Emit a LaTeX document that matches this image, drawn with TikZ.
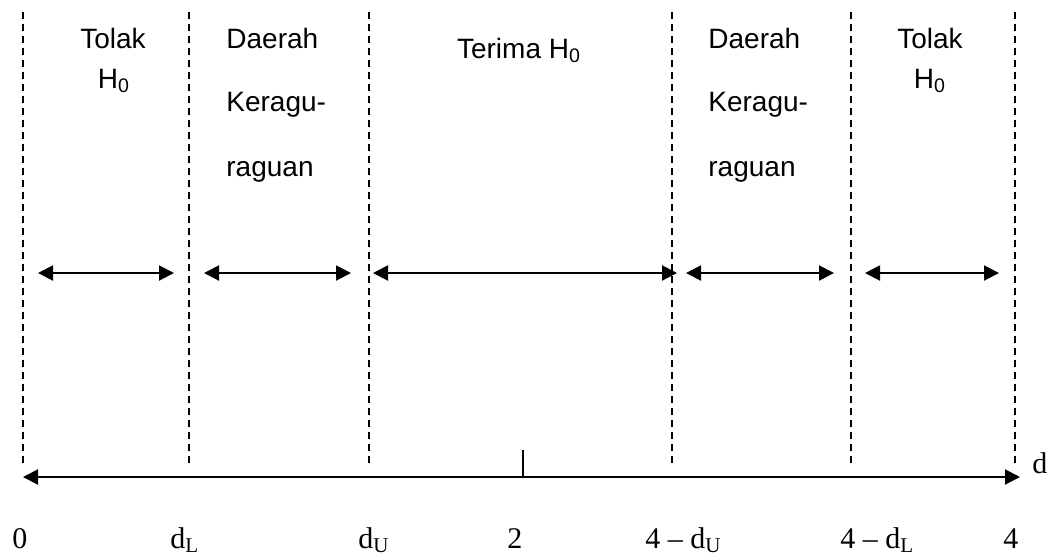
\documentclass[tikz,border=0pt]{standalone}
\usepackage{fontspec}
\setmainfont{Liberation Serif}
\newfontfamily\arialfont{Liberation Sans}
\usetikzlibrary{arrows.meta}
\begin{document}
\begin{tikzpicture}[x=0.5pt,y=-0.5pt,
  guide/.style={dash pattern=on 3.5pt off 2.5pt, line width=0.7pt},
  span/.style={{Triangle[length=7.5pt,width=7.5pt]}-{Triangle[length=7.5pt,width=7.5pt]}, line width=1pt},
  axisline/.style={{Triangle[length=7.5pt,width=7.5pt]}-{Triangle[length=7.5pt,width=7.5pt]}, line width=1pt},
  tickline/.style={line width=0.8pt},
  region/.style={font=\arialfont\fontsize{14}{16}\selectfont, inner sep=0pt, anchor=base},
  regionl/.style={region, anchor=base west},
  lab/.style={font=\fontsize{15}{17}\selectfont, inner sep=0pt, anchor=base west}]
\useasboundingbox (0,0) rectangle (1052,554);
% dashed guides
\foreach \n/\x in {1/23,2/189,3/369,4/672,5/851,6/1015}{
  \coordinate (gt\n) at (\x,12);
  \coordinate (gb\n) at (\x,466);
  \draw[guide] (gt\n) -- (gb\n);
}
% region arrows
\foreach \n/\a/\b in {1/38/174,2/204/351,3/373/677,4/686/834,5/865/999}{
  \coordinate (sa\n) at (\a,273);
  \coordinate (sb\n) at (\b,273);
  \draw[span] (sa\n) -- (sb\n);
}
% axis
\coordinate (ax0) at (23,477);
\coordinate (ax1) at (1020,477);
\draw[axisline] (ax0) -- (ax1);
\coordinate (tk0) at (523,450);
\coordinate (tk1) at (523,477);
\draw[tickline] (tk0) -- (tk1);
% region labels
\node[region] (tolak1) at (113,48) {Tolak};
\node[region] (hnol1) at (114,88) {H\textsubscript{0}};
\node[regionl] (daerah1) at (226,48) {Daerah};
\node[regionl] (ragu1) at (226,111) {Keragu-};
\node[regionl] (raguan1) at (226,176) {raguan};
\node[region] (terima) at (519,58) {Terima H\textsubscript{0}};
\node[regionl] (daerah2) at (708,48) {Daerah};
\node[regionl] (ragu2) at (708,111) {Keragu-};
\node[regionl] (raguan2) at (708,176) {raguan};
\node[region] (tolak2) at (930,48) {Tolak};
\node[region] (hnol2) at (930,88) {H\textsubscript{0}};
% axis labels
\node[lab] (l0) at (12,548) {0};
\node[lab] (ldl) at (170,548) {d\textsubscript{L}};
\node[lab] (ldu) at (358,548) {d\textsubscript{U}};
\node[lab] (l2) at (507,548) {2};
\node[lab] (l4du) at (645,548) {4 -- d\textsubscript{U}};
\node[lab] (l4dl) at (840,548) {4 -- d\textsubscript{L}};
\node[lab] (l4) at (1003,548) {4};
\node[lab] (ld) at (1032,473) {d};
\end{tikzpicture}
\end{document}
